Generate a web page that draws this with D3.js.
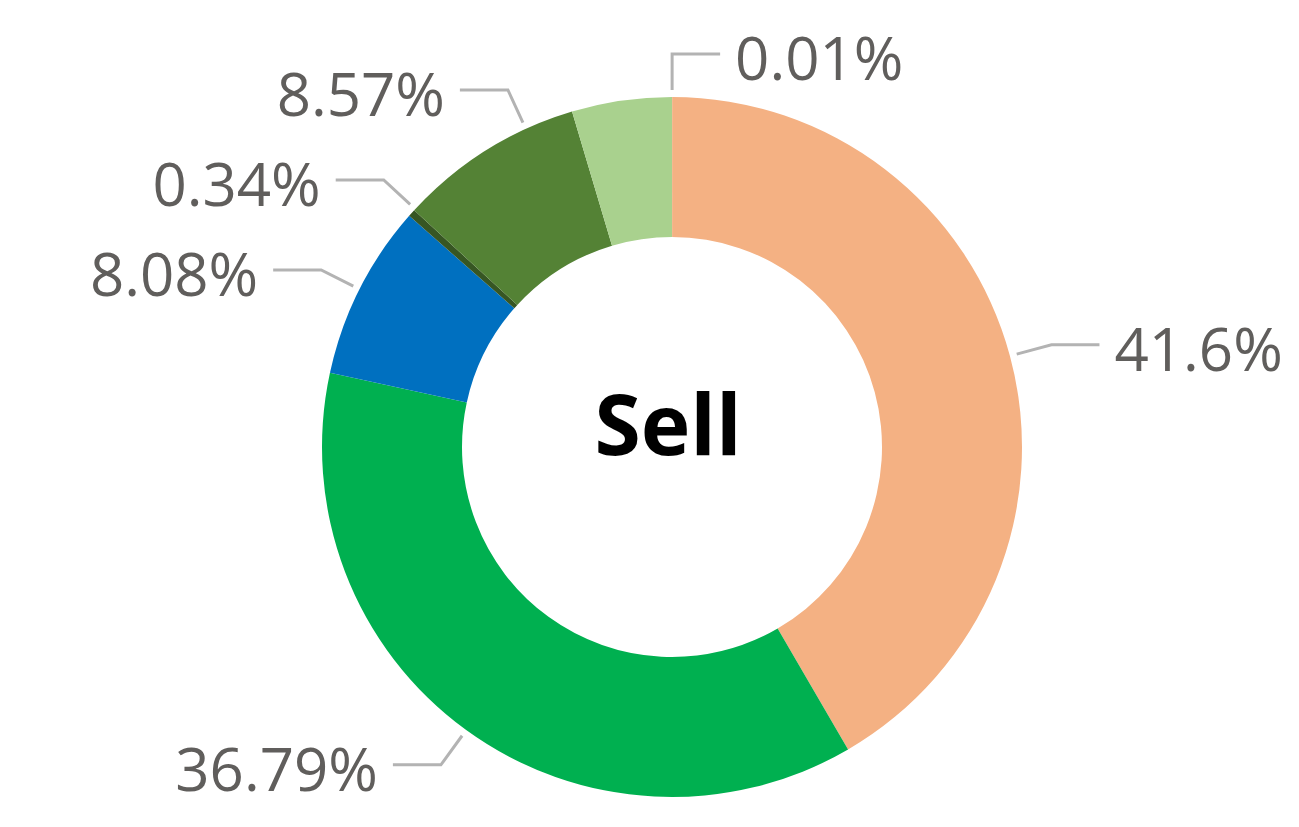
<!DOCTYPE html>
<html>
<head>
<meta charset="utf-8">
<script src="https://cdn.jsdelivr.net/npm/d3@7"></script>
<style>
  body { margin: 0; background: #fff; }
  svg { display: block; }
</style>
</head>
<body>
<div class="donut-chart"></div>
<script>
const width = 1299;
const height = 827;

// slice values (percent), read clockwise from 12 o'clock
const values = [0.01, 41.6, 36.79, 8.08, 0.34, 8.57, 4.61];
const labels = ["0.01%", "41.6%", "36.79%", "8.08%", "0.34%", "8.57%", null];
const colors = ["#C55A11", "#F4B183", "#00B050", "#0070C0", "#375623", "#548235", "#A9D18E"];
const centerText = "Sell";

const cx = 672;
const cy = 447;
const innerR = 210;
const outerR = 350;
const lineStartR = 357;
const elbowR = 393;
const legLen = 48;
const minGap = 90;

const svg = d3
    .select(".donut-chart")
    .append("svg")
    .attr("width", width)
    .attr("height", height);

const g = svg.append("g").attr("transform", `translate(${cx},${cy})`);

const pie = d3.pie().sort(null).value((d) => d.value);
const arcs = pie(values.map((v, i) => ({ value: v, label: labels[i], color: colors[i] })));

const arc = d3.arc().innerRadius(innerR).outerRadius(outerR);

g.selectAll("path.slice")
    .data(arcs)
    .enter()
    .append("path")
    .attr("class", "slice")
    .attr("d", arc)
    .attr("fill", (d) => d.data.color);

// label positions: start at the slice middle, then push apart vertically
let placed = arcs
    .filter((d) => d.data.label)
    .map((d) => {
        const a = (d.startAngle + d.endAngle) / 2;
        return { d: d, angle: a, right: a < Math.PI, y: -Math.cos(a) * elbowR };
    });

function spread(list) {
    // bottom label first, each next one kept at least minGap above
    list.sort((a, b) => b.y - a.y);
    for (let i = 1; i < list.length; i++) {
        if (list[i - 1].y - list[i].y < minGap) {
            list[i].y = list[i - 1].y - minGap;
        }
    }
    list.forEach((p) => {
        const yy = Math.max(-elbowR, Math.min(elbowR, p.y));
        let a = Math.acos(-yy / elbowR);
        if (!p.right) a = 2 * Math.PI - a;
        p.angle = a;
    });
}
spread(placed.filter((p) => p.right));
spread(placed.filter((p) => !p.right));

const fontSize = 60;

placed.forEach((p) => {
    const sx = Math.sin(p.angle) * lineStartR;
    const sy = -Math.cos(p.angle) * lineStartR;
    const ex = Math.sin(p.angle) * elbowR;
    const ey = -Math.cos(p.angle) * elbowR;
    const dir = p.right ? 1 : -1;
    const hx = ex + dir * legLen;

    g.append("polyline")
        .attr("points", [[sx, sy], [ex, ey], [hx, ey]].map((q) => q.join(",")).join(" "))
        .attr("fill", "none")
        .attr("stroke", "#b3b3b3")
        .attr("stroke-width", 3);

    g.append("text")
        .text(p.d.data.label)
        .attr("x", hx + dir * 15)
        .attr("y", ey + 26)
        .attr("text-anchor", p.right ? "start" : "end")
        .attr("fill", "#605E5C")
        .attr("font-family", "'Segoe UI', 'Open Sans', sans-serif")
        .attr("font-size", fontSize);
});

// center label
g.append("text")
    .text(centerText)
    .attr("x", -4)
    .attr("y", 8)
    .attr("text-anchor", "middle")
    .attr("fill", "#000")
    .attr("font-family", "'Segoe UI', 'Open Sans', sans-serif")
    .attr("font-weight", "bold")
    .attr("font-size", 84);
</script>
</body>
</html>
